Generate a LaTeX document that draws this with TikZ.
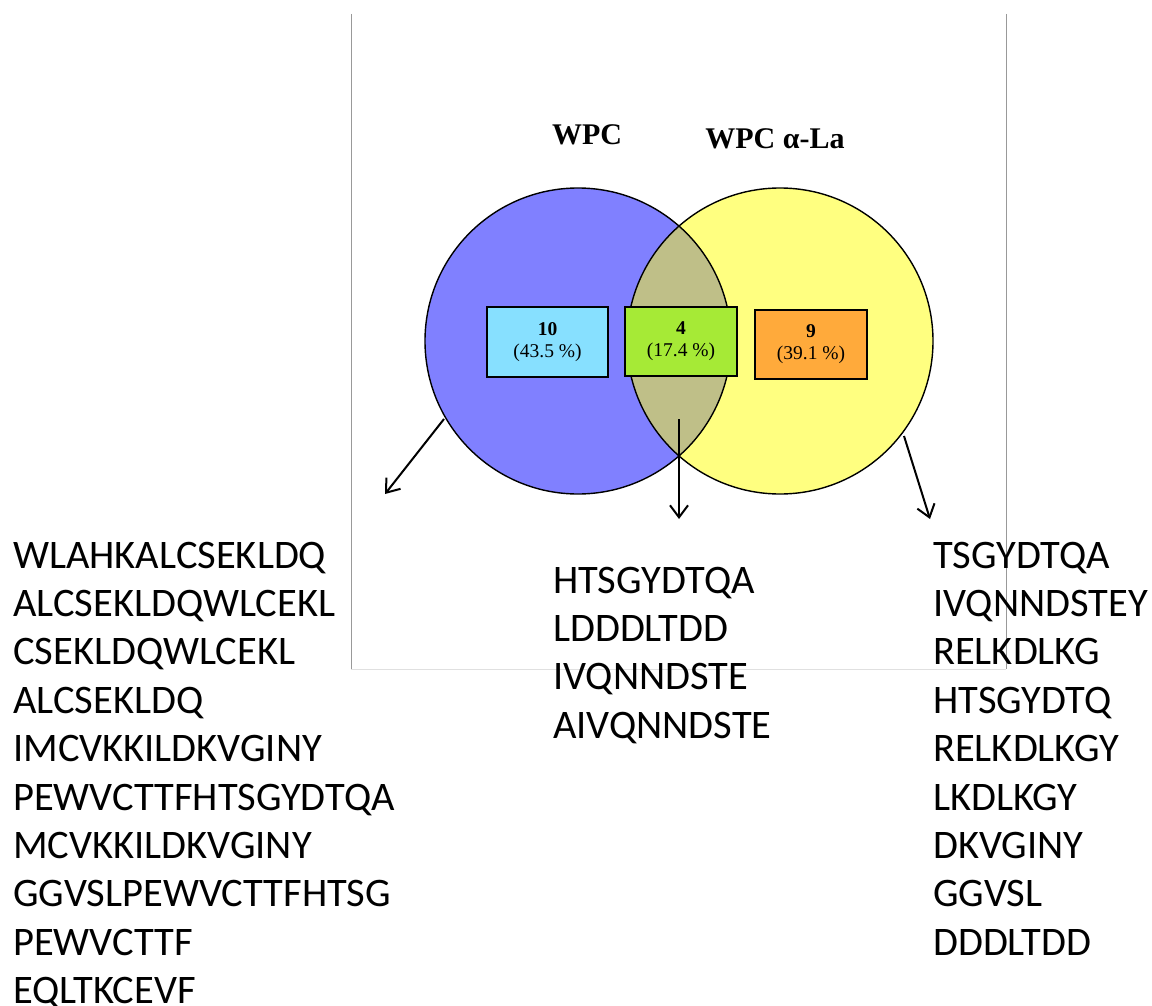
\documentclass[tikz,border=0pt]{standalone}
\usepackage{fontspec}
\setmainfont{Liberation Serif}
\newfontfamily\seqfont{Carlito}
\usetikzlibrary{arrows.meta}
\definecolor{cblue}{HTML}{8080FF}
\definecolor{cyellow}{HTML}{FFFF80}
\definecolor{cmix}{HTML}{BFBF88}
\definecolor{bblue}{HTML}{87E0FF}
\definecolor{bgreen}{HTML}{A6EA36}
\definecolor{borange}{HTML}{FFAA3B}
\tikzset{
  seq/.style={anchor=base west, inner sep=0pt, font=\seqfont\fontsize{40.5}{48}\selectfont},
  title/.style={anchor=base, inner sep=0pt, font=\bfseries\fontsize{30}{34}\selectfont},
  countbox/.style={draw=black, line width=2pt, align=center, inner sep=0pt,
    font=\fontsize{19.5}{22}\selectfont},
  ring/.style={draw=black, line width=1.4pt},
  pointer/.style={draw=black, line width=2pt, -{Straight Barb[length=12pt,width=18pt,line width=2pt]}},
  framev/.style={draw=black!40, line width=0.8pt},
  frameh/.style={draw=black!12, line width=0.8pt}
}
\begin{document}
\begin{tikzpicture}[x=1pt,y=-1pt]
\useasboundingbox (0,0) rectangle (1152,1006);
% frame
\coordinate (f1) at (351,14);
\coordinate (f2) at (351,669);
\coordinate (f3) at (1006,669);
\coordinate (f4) at (1006,14);
\draw[frameh] (f2) -- (f3);
\draw[framev] (f1) -- (f2);
\draw[framev] (f4) -- (f3);
% circles
\coordinate (cA) at (578,341);
\coordinate (cB) at (780,341);
\fill[cblue] (cA) circle[radius=153];
\fill[cyellow] (cB) circle[radius=153];
\begin{scope}
  \clip (cA) circle[radius=153];
  \fill[cmix] (cB) circle[radius=153];
\end{scope}
\draw[ring] (cA) circle[radius=153];
\draw[ring] (cB) circle[radius=153];
% titles
\node[title] (tA) at (587,145) {WPC};
\node[title] (tB) at (775,149) {WPC α-La};
% count boxes
\node[countbox, fill=bblue, minimum width=121pt, minimum height=70pt] (bA) at (547.5,342)
  {\textbf{10}\\(43.5 \%)};
\node[countbox, fill=bgreen, minimum width=112pt, minimum height=69pt] (bM) at (681,341.5)
  {\textbf{4}\\(17.4 \%)};
\node[countbox, fill=borange, minimum width=112pt, minimum height=69pt] (bB) at (811,344.5)
  {\textbf{9}\\(39.1 \%)};
% arrows
\coordinate (a1s) at (444,419);
\coordinate (a1e) at (385,494);
\coordinate (a2s) at (679,419);
\coordinate (a2e) at (679,519);
\coordinate (a3s) at (904,436);
\coordinate (a3e) at (930,519);
\draw[pointer] (a1s) -- (a1e);
\draw[pointer] (a2s) -- (a2e);
\draw[pointer] (a3s) -- (a3e);
% sequence lists
\foreach \t [count=\i] in {WLAHKALCSEKLDQ,ALCSEKLDQWLCEKL,CSEKLDQWLCEKL,ALCSEKLDQ,IMCVKKILDKVGINY,PEWVCTTFHTSGYDTQA,MCVKKILDKVGINY,GGVSLPEWVCTTFHTSG,PEWVCTTF,EQLTKCEVF}
  \node[seq] (L\i) at (13,{568+48.4*(\i-1)}) {\t};
\foreach \t [count=\i] in {HTSGYDTQA,LDDDLTDD,IVQNNDSTE,AIVQNNDSTE}
  \node[seq] (M\i) at (553,{593+48.4*(\i-1)}) {\t};
\foreach \t [count=\i] in {TSGYDTQA,IVQNNDSTEY,RELKDLKG,HTSGYDTQ,RELKDLKGY,LKDLKGY,DKVGINY,GGVSL,DDDLTDD}
  \node[seq] (R\i) at (933,{568+48.4*(\i-1)}) {\t};
\end{tikzpicture}
\end{document}
